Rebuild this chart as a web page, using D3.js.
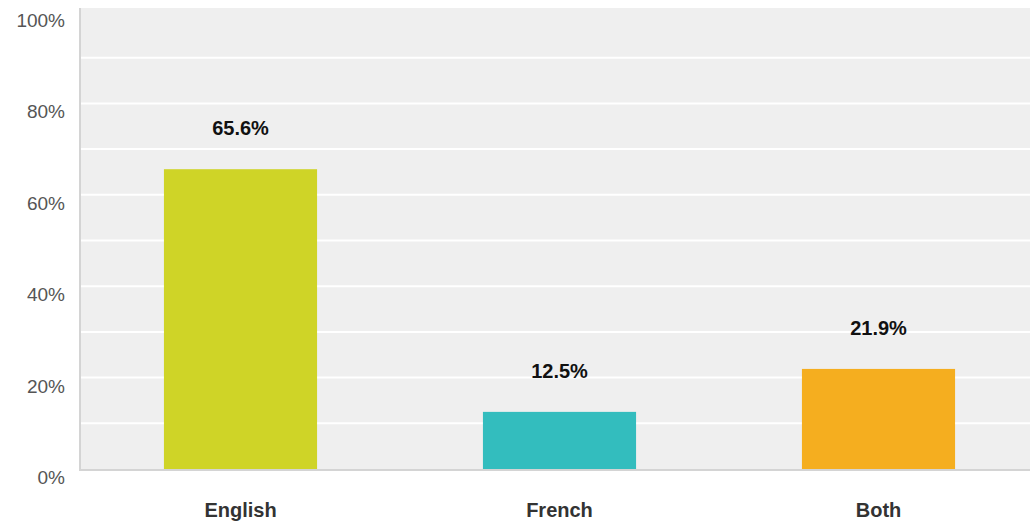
<!DOCTYPE html>
<html>
<head>
<meta charset="utf-8">
<script src="https://cdn.jsdelivr.net/npm/d3@7"></script>
<style>
  body { margin: 0; background: #fff; }
  text { font-family: "Liberation Sans", Arial, sans-serif; }
</style>
</head>
<body>
<div id="chart"></div>
<script>
var categories = ["English", "French", "Both"];
var values = [65.6, 12.5, 21.9];
var colors = ["#cfd427", "#33bdbe", "#f5ae1f"];
var ticks = [0, 20, 40, 60, 80, 100];
var gridTicks = [0, 10, 20, 30, 40, 50, 60, 70, 80, 90, 100];

var width = 1030;
var height = 527;
var plotLeft = 81, plotTop = 12, plotBottom = 469;

var svg = d3.select("#chart").append("svg")
    .attr("width", width)
    .attr("height", height);

var x = d3.scaleBand()
    .domain(categories)
    .range([plotLeft, 1038])
    .paddingInner(0.52)
    .paddingOuter(0.26);

var y = d3.scaleLinear()
    .domain([0, 100])
    .range([plotBottom, plotTop]);

// plot background
svg.append("rect")
    .attr("x", plotLeft)
    .attr("y", 8)
    .attr("width", width - plotLeft)
    .attr("height", plotBottom - 8)
    .attr("fill", "#efefef");

// white gridlines
svg.selectAll(".grid")
    .data(gridTicks.slice(1, -1))
    .enter().append("line")
    .attr("class", "grid")
    .attr("x1", plotLeft)
    .attr("x2", width)
    .attr("y1", d => y(d))
    .attr("y2", d => y(d))
    .attr("stroke", "#fff")
    .attr("stroke-width", 2);

// bars
svg.selectAll(".bar")
    .data(values)
    .enter().append("rect")
    .attr("class", "bar")
    .attr("x", (d, i) => x(categories[i]))
    .attr("width", x.bandwidth())
    .attr("y", d => y(d))
    .attr("height", d => plotBottom - y(d))
    .attr("fill", (d, i) => colors[i]);

// axis lines
svg.append("line")
    .attr("x1", plotLeft - 1).attr("x2", plotLeft - 1)
    .attr("y1", 8).attr("y2", plotBottom + 1)
    .attr("stroke", "#d4d4d4").attr("stroke-width", 2);
svg.append("line")
    .attr("x1", plotLeft - 2).attr("x2", width)
    .attr("y1", plotBottom + 1).attr("y2", plotBottom + 1)
    .attr("stroke", "#d4d4d4").attr("stroke-width", 2);

// y tick labels
svg.selectAll(".ytick")
    .data(ticks)
    .enter().append("text")
    .attr("class", "ytick")
    .attr("x", 65)
    .attr("y", d => y(d) + 15)
    .attr("text-anchor", "end")
    .attr("font-size", 19)
    .attr("fill", "#555")
    .text(d => d + "%");

// value labels
svg.selectAll(".val")
    .data(values)
    .enter().append("text")
    .attr("class", "val")
    .attr("x", (d, i) => x(categories[i]) + x.bandwidth() / 2)
    .attr("y", d => y(d) - 34)
    .attr("text-anchor", "middle")
    .attr("font-size", 20)
    .attr("font-weight", "bold")
    .attr("fill", "#111")
    .text(d => d.toFixed(1) + "%");

// category labels
svg.selectAll(".cat")
    .data(categories)
    .enter().append("text")
    .attr("class", "cat")
    .attr("x", d => x(d) + x.bandwidth() / 2)
    .attr("y", 517)
    .attr("text-anchor", "middle")
    .attr("font-size", 20)
    .attr("font-weight", "bold")
    .attr("fill", "#333")
    .text(d => d);
</script>
</body>
</html>
